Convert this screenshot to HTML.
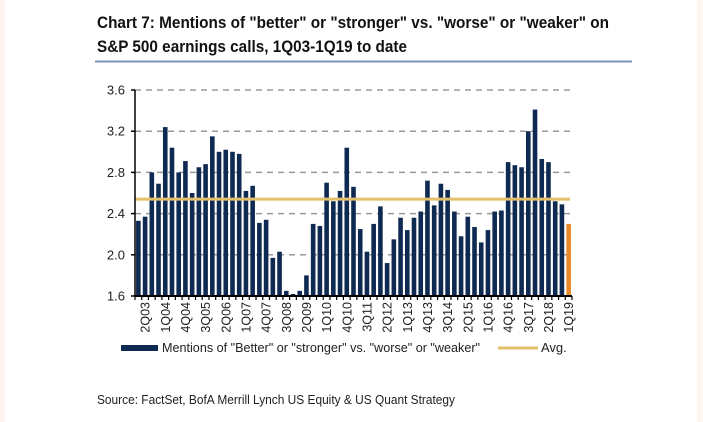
<!DOCTYPE html>
<html><head><meta charset="utf-8"><style>
html,body{margin:0;padding:0;background:#fff}
svg{display:block}
text{font-family:"Liberation Sans Narrow","Liberation Sans",sans-serif}
</style></head><body>
<svg id="chart" width="703" height="422" viewBox="0 0 703 422" xmlns="http://www.w3.org/2000/svg">
<rect x="0" y="0" width="703" height="422" fill="#fdf4ef"/>
<rect x="5" y="0" width="692" height="422" fill="#ffffff"/>
<text x="97" y="28" font-size="17" font-weight="bold" fill="#111" textLength="512" lengthAdjust="spacingAndGlyphs">Chart 7: Mentions of "better" or "stronger" vs. "worse" or "weaker" on</text>
<text x="97" y="52" font-size="17" font-weight="bold" fill="#111" textLength="310" lengthAdjust="spacingAndGlyphs">S&amp;P 500 earnings calls, 1Q03-1Q19 to date</text>
<line x1="95" y1="61.5" x2="632" y2="61.5" stroke="#7a94b8" stroke-width="2"/>
<g id="grid"></g><g id="bars"></g><g id="axes"></g>
<rect x="121" y="345" width="37" height="6" fill="#0f2a52"/>
<text x="162" y="352" font-size="13" fill="#222" textLength="318" lengthAdjust="spacingAndGlyphs">Mentions of "Better" or "stronger" vs. "worse" or "weaker"</text>
<line x1="498" y1="348" x2="538" y2="348" stroke="#e3c06a" stroke-width="3"/>
<text x="541" y="352" font-size="13" fill="#222">Avg.</text>
<text x="97" y="404" font-size="12.5" fill="#222" textLength="358" lengthAdjust="spacingAndGlyphs">Source: FactSet, BofA Merrill Lynch US Equity &amp; US Quant Strategy</text>
</svg>
<script>
const quarters=[];for(let y=3;y<=19;y++){for(let q=1;q<=4;q++){if(y===19&&q>1)break;quarters.push(q+'Q'+String(y).padStart(2,'0'));}}
const values=[2.33,2.37,2.80,2.69,3.24,3.04,2.80,2.91,2.60,2.85,2.88,3.15,3.00,3.02,3.00,2.98,2.62,2.67,2.31,2.34,1.97,2.03,1.65,1.62,1.65,1.80,2.30,2.28,2.70,2.52,2.62,3.04,
2.66,2.25,2.03,2.30,2.47,1.92,2.15,2.36,2.24,2.36,2.42,2.72,2.48,2.69,2.63,2.42,2.18,2.37,2.27,2.12,2.24,2.42,2.43,2.90,2.87,2.85,3.20,3.41,2.93,2.90,2.52,2.49,2.30];
const avgValue=2.54;
const yTicks=[1.6,2.0,2.4,2.8,3.2,3.6];
const NS='http://www.w3.org/2000/svg';
const X0=135,X1=572,Y0=296,Y1=90,yMin=1.6,yMax=3.6;
const step=(X1-X0)/values.length;
const xc=i=>X0+step*(i+0.5);
const ys=v=>Y0-(v-yMin)/(yMax-yMin)*(Y0-Y1);
function mk(tag,attrs,parent){const e=document.createElementNS(NS,tag);for(const k in attrs)e.setAttribute(k,attrs[k]);parent.appendChild(e);return e;}
const grid=document.getElementById('grid'),bars=document.getElementById('bars'),axes=document.getElementById('axes');
yTicks.forEach(t=>{
 if(t>yMin){const g=mk('line',{x1:X0,x2:X1,y1:ys(t),y2:ys(t),stroke:'#9a9a9a','stroke-width':1.5,'stroke-dasharray':'6,5'},grid);
 
 }
 const tl=mk('text',{x:X0-10,y:ys(t)+4.5,'font-size':13,'text-anchor':'end',fill:'#222'},axes);tl.textContent=t.toFixed(1);
 
 
 const tk=mk('line',{x1:X0-4,x2:X0,y1:ys(t),y2:ys(t),stroke:'#000','stroke-width':1.5},axes);
 
 
});
values.forEach((v,i)=>{
 const last=i===values.length-1;
 const b=mk('rect',{x:xc(i)-2.3,y:ys(v),width:4.6,height:Y0-ys(v),fill:last?'#e8892a':'#0f2a52'},bars);
 
 
});
const avg=mk('line',{x1:X0,x2:X1-2,y1:ys(avgValue),y2:ys(avgValue),stroke:'#e3c06a','stroke-width':3},bars);


const ya=mk('line',{x1:X0,x2:X0,y1:Y1,y2:Y0,stroke:'#000','stroke-width':1.5},axes);


const xa=mk('line',{x1:X0,x2:X1,y1:Y0,y2:Y0,stroke:'#000','stroke-width':2},axes);


for(let i=0;i<=values.length;i++){
 const tk=mk('line',{x1:X0+step*i,x2:X0+step*i,y1:Y0,y2:Y0+4,stroke:'#000','stroke-width':1.2},axes);
 
 
}
quarters.forEach((q,i)=>{
 if((i-1)%3!==0)return;
 const x=xc(i)+4.5,y=Y0+6;
 const t=mk('text',{x:x,y:y,'font-size':12.5,'text-anchor':'end',fill:'#222',transform:'rotate(-90 '+x+' '+y+')'},axes);
 t.textContent=q;
 
 
});
</script>
</body></html>
